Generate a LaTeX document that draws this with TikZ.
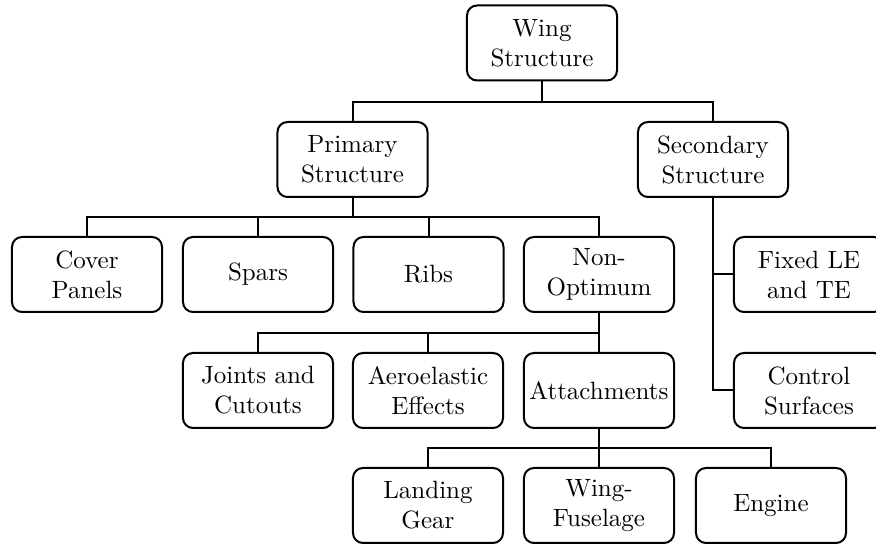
\documentclass[tikz,border=0pt]{standalone}
\begin{document}
\begin{tikzpicture}[
  x=0.4pt, y=-0.4pt,
  box/.style={draw, line width=0.8pt, rounded corners=4pt, align=center,
    minimum width=60pt, minimum height=30pt, inner sep=2pt},
  link/.style={line width=0.8pt}
]
\useasboundingbox (0,0) rectangle (876,544);

% top level
\node[box] (wing) at (542,43) {Wing\\Structure};
\node[box] (prim) at (352.5,159.5) {Primary\\Structure};
\node[box] (sec)  at (713,159.5) {Secondary\\Structure};

% primary structure items
\node[box] (cover)  at (87,274.5)    {Cover\\Panels};
\node[box] (spars)  at (258,274.5)   {Spars};
\node[box] (ribs)   at (428.5,274.5) {Ribs};
\node[box] (nonopt) at (599,274.5)   {Non-\\Optimum};

% secondary structure items
\node[box] (fixed)   at (809,274.5) {Fixed LE\\and TE};
\node[box] (control) at (809,390.5) {Control\\Surfaces};

% non-optimum items
\node[box] (joints) at (258,390.5) {Joints and\\Cutouts};
\node[box] (aero)   at (428,390.5) {Aeroelastic\\Effects};
\node[box] (attach) at (599,390.5) {Attachments};

% attachment items
\node[box] (landing) at (428,505.5) {Landing\\Gear};
\node[box] (wingfus) at (599,505.5) {Wing-\\Fuselage};
\node[box] (engine)  at (771,505.5) {Engine};

% junction points of the tree connectors
\coordinate (j1) at (wing.south |- 0,102);
\coordinate (j2) at (prim.south |- 0,217);
\coordinate (j3) at (nonopt.south |- 0,333);
\coordinate (j4) at (attach.south |- 0,448);

\draw[link] (wing.south) -- (j1);
\foreach \n in {prim,sec} \draw[link] (j1) -| (\n.north);

\draw[link] (prim.south) -- (j2);
\foreach \n in {cover,spars,ribs,nonopt} \draw[link] (j2) -| (\n.north);

\draw[link] (nonopt.south) -- (j3);
\foreach \n in {joints,aero,attach} \draw[link] (j3) -| (\n.north);

\draw[link] (attach.south) -- (j4);
\foreach \n in {landing,wingfus,engine} \draw[link] (j4) -| (\n.north);

\draw[link] (sec.south) |- (fixed.west);
\draw[link] (sec.south) |- (control.west);
\end{tikzpicture}
\end{document}
